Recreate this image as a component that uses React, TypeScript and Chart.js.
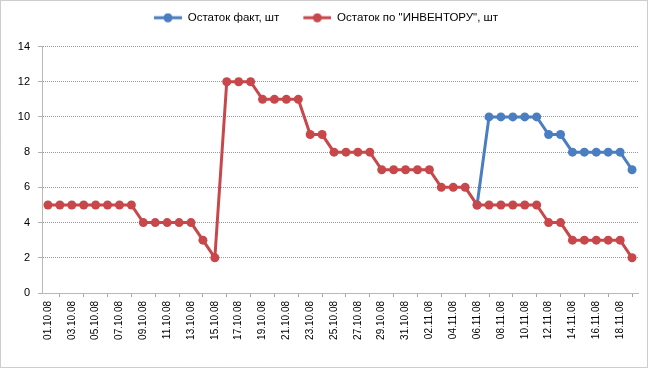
import React, { useEffect, useRef } from "react";
import { Chart, registerables } from "chart.js";

Chart.register(...registerables);

const dates: string[] = [
  "01.10.08","02.10.08","03.10.08","04.10.08","05.10.08","06.10.08","07.10.08","08.10.08","09.10.08","10.10.08",
  "11.10.08","12.10.08","13.10.08","14.10.08","15.10.08","16.10.08","17.10.08","18.10.08","19.10.08","20.10.08",
  "21.10.08","22.10.08","23.10.08","24.10.08","25.10.08","26.10.08","27.10.08","28.10.08","29.10.08","30.10.08",
  "31.10.08","01.11.08","02.11.08","03.11.08","04.11.08","05.11.08","06.11.08","07.11.08","08.11.08","09.11.08",
  "10.11.08","11.11.08","12.11.08","13.11.08","14.11.08","15.11.08","16.11.08","17.11.08","18.11.08","19.11.08",
];

const factValues: (number | null)[] = [
  null,null,null,null,null,null,null,null,null,null,
  null,null,null,null,null,null,null,null,null,null,
  null,null,null,null,null,null,null,null,null,null,
  null,null,null,null,null,null,5,10,10,10,
  10,10,9,9,8,8,8,8,8,7,
];

const inventoryValues: number[] = [
  5,5,5,5,5,5,5,5,4,4,
  4,4,4,3,2,12,12,12,11,11,
  11,11,9,9,8,8,8,8,7,7,
  7,7,7,6,6,6,5,5,5,5,
  5,5,4,4,3,3,3,3,3,2,
];

const seriesNames: string[] = ["Остаток факт, шт", "Остаток по \"ИНВЕНТОРУ\", шт"];
const yTicks: number[] = [0, 2, 4, 6, 8, 10, 12, 14];

const BLUE = "#4A7EC0";
const RED = "#C8474A";
const FONT = "'Liberation Sans', Arial, sans-serif";

const ICON_PAD = 14;
const ICON_W = 28;
function legendIcon(color: string): HTMLCanvasElement {
  const c = document.createElement("canvas");
  c.width = ICON_W + ICON_PAD;
  c.height = 10;
  const ctx = c.getContext("2d")!;
  ctx.strokeStyle = color;
  ctx.lineWidth = 3;
  ctx.beginPath();
  ctx.moveTo(ICON_PAD, 5);
  ctx.lineTo(ICON_PAD + ICON_W, 5);
  ctx.stroke();
  ctx.fillStyle = color;
  ctx.beginPath();
  ctx.arc(ICON_PAD + ICON_W / 2, 5, 4.5, 0, Math.PI * 2);
  ctx.fill();
  return c;
}

const borderPlugin = {
  id: "outerBorder",
  afterDraw(chart: any) {
    const ctx = chart.ctx;
    ctx.save();
    ctx.strokeStyle = "#9a9a9a";
    ctx.lineWidth = 1;
    ctx.setLineDash([1, 1]);
    ctx.strokeRect(0.5, 0.5, chart.width - 1, chart.height - 1);
    ctx.restore();
  },
};

const legendSpacePlugin = {
  id: "legendSpace",
  beforeInit(chart: any) {
    const legend = chart.legend;
    if (!legend) return;
    const orig = legend.fit;
    legend.fit = function () {
      orig.call(this);
      this.height += 13;
    };
  },
};

export default function App() {
  const ref = useRef<HTMLCanvasElement | null>(null);
  useEffect(() => {
    document.body.style.margin = "0";
    const icons = [legendIcon(BLUE), legendIcon(RED)];
    const chart = new Chart(ref.current!, {
      type: "line",
      data: {
        labels: dates,
        datasets: [
          {
            label: seriesNames[0],
            data: factValues,
            borderColor: BLUE,
            backgroundColor: BLUE,
            borderWidth: 3,
            pointRadius: 4.5,
            pointBorderWidth: 0,
            pointBackgroundColor: BLUE,
            tension: 0,
            spanGaps: false,
            order: 2,
          },
          {
            label: seriesNames[1],
            data: inventoryValues,
            borderColor: RED,
            backgroundColor: RED,
            borderWidth: 3,
            pointRadius: 4.5,
            pointBorderWidth: 0,
            pointBackgroundColor: RED,
            tension: 0,
            order: 1,
          },
        ],
      },
      options: {
        animation: false,
        responsive: false,
        maintainAspectRatio: false,
        layout: { padding: { left: 0, right: 10, top: 2, bottom: 0 } },
        plugins: {
          tooltip: { enabled: false },
          legend: {
            position: "top",
            labels: {
              usePointStyle: true,
              pointStyleWidth: ICON_W + ICON_PAD,
              font: { family: FONT, size: 11.5 },
              color: "#000",
              padding: 10,
              generateLabels: (ch: any) =>
                ch.data.datasets.map((ds: any, i: number) => ({
                  text: ds.label,
                  fillStyle: ds.borderColor,
                  strokeStyle: ds.borderColor,
                  pointStyle: icons[i],
                  datasetIndex: i,
                  hidden: false,
                  lineWidth: 0,
                  fontColor: "#000",
                })),
            },
          },
        },
        scales: {
          x: {
            offset: true,
            grid: {
              display: true,
              offset: true,
              drawOnChartArea: false,
              drawTicks: true,
              tickLength: 4,
              color: "#a6a6a6",
            },
            border: { display: true, color: "#b8b8b8", width: 1 },
            ticks: {
              autoSkip: false,
              maxRotation: 90,
              minRotation: 90,
              padding: 4,
              font: { family: FONT, size: 10 },
              color: "#000",
              callback: (_v: any, i: number) => (i % 2 === 0 ? dates[i] : null),
            },
            afterFit: (s: any) => {
              s.height = 75;
            },
          },
          y: {
            min: 0,
            max: 14,
            afterBuildTicks: (s: any) => {
              s.ticks = yTicks.map((v) => ({ value: v }));
            },
            grid: {
              color: "#999999",
              tickLength: 4,
              tickColor: "#b0b0b0",
              lineWidth: 1,
            },
            border: { display: true, color: "#b8b8b8", width: 1, dash: [1, 1] },
            ticks: {
              font: { family: FONT, size: 11 },
              color: "#000",
              padding: 8,
            },
            afterFit: (s: any) => {
              s.width = 42;
            },
          },
        },
      },
      plugins: [borderPlugin, legendSpacePlugin],
    });
    return () => chart.destroy();
  }, []);
  return (
    <div style={{ position: "absolute", left: 0, top: 0, width: 648, height: 368 }}>
      <canvas ref={ref} width={648} height={368} style={{ width: 648, height: 368 }} />
    </div>
  );
}
